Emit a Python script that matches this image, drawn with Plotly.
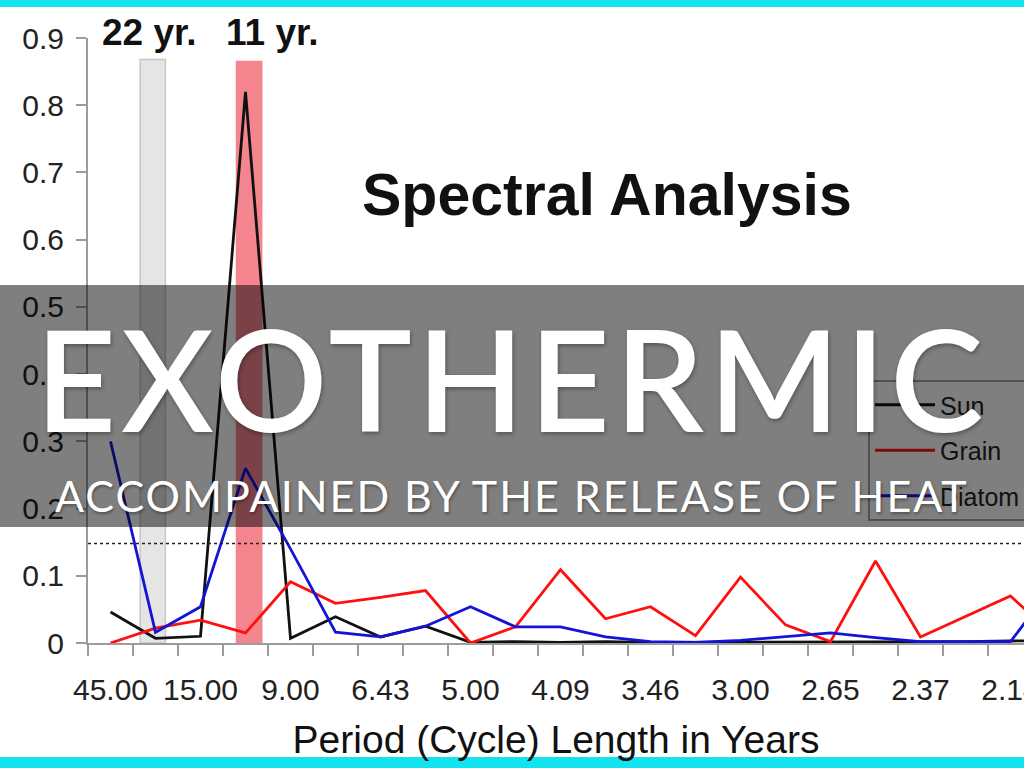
import plotly.graph_objects as go

# ---------------- data ----------------
period_labels = ["45.00", "22.50", "15.00", "11.25", "9.00", "7.50", "6.43", "5.63",
                 "5.00", "4.50", "4.09", "3.75", "3.46", "3.21", "3.00", "2.81",
                 "2.65", "2.50", "2.37", "2.25", "2.14", "2.05"]
sun = [0.046, 0.007, 0.010, 0.820, 0.007, 0.039, 0.009, 0.025, 0.001, 0.002, 0.001,
       0.002, 0.001, 0.001, 0.002, 0.002, 0.001, 0.002, 0.002, 0.002, 0.003, 0.004]
grain = [0.000, 0.022, 0.034, 0.015, 0.091, 0.059, 0.068, 0.078, 0.000, 0.024, 0.109,
         0.036, 0.054, 0.011, 0.098, 0.027, 0.002, 0.122, 0.009, 0.040, 0.070, 0.008]
diatom = [0.300, 0.016, 0.054, 0.260, 0.140, 0.016, 0.009, 0.025, 0.054, 0.024, 0.024,
          0.009, 0.002, 0.001, 0.004, 0.010, 0.015, 0.008, 0.002, 0.002, 0.002, 0.090]
series_names = ["Sun", "Grain", "Diatom"]
significance_level = 0.148
band_periods = ["22.50", "11.25"]
band_labels = ["22 yr.", "11 yr."]
band_tops = [0.868, 0.865]
chart_title = "Spectral Analysis"
x_title = "Period (Cycle) Length in Years"
banner_title = "EXOTHERMIC"
banner_subtitle = "ACCOMPAINED BY THE RELEASE OF HEAT"

# ---------------- styles ----------------
W, H = 1024, 768
ML, MR, MT, MB = 88, 0, 38, 125
PW, PH = W - ML - MR, H - MT - MB
AX = "#9c9c9c"
FONT = "Liberation Sans, Arial, sans-serif"
colors = ["#111111", "#ff1010", "#1414d8"]
band_fill = ["#e5e5e5", "#f4848e"]
band_line = ["#c6c6c6", "#f4848e"]
band_shift = [-0.06, 0.08]
label_shift = [-3, 23]
BANNER_TOP, BANNER_H, BANNER_PAD = 285, 242, 9


def px_x(p):
    return (p - ML) / PW


def px_y(p):
    return (H - MB - p) / PH


def spaced(text, px):
    return '<span style="letter-spacing:%dpx">%s</span>' % (px, text)


x_idx = list(range(len(period_labels)))

fig = go.Figure()
for name, vals, col in zip(series_names, [sun, grain, diatom], colors):
    fig.add_trace(go.Scatter(
        x=x_idx, y=vals, name=name, mode="lines", legendgroup=name,
        line=dict(color=col, width=2.8), cliponaxis=False,
    ))

shapes = []
annotations = []
for per, lab, top, fc, lc, bs, sh in zip(band_periods, band_labels, band_tops,
                                         band_fill, band_line, band_shift, label_shift):
    c = period_labels.index(per) + bs
    shapes.append(dict(type="rect", xref="x", yref="y", x0=c - 0.28, x1=c + 0.28,
                       y0=0, y1=top, fillcolor=fc, line=dict(color=lc, width=1.5),
                       layer="below"))
    annotations.append(dict(text=lab, xref="x", yref="paper", x=c, y=px_y(32), xshift=sh,
                            showarrow=False, xanchor="center", yanchor="middle",
                            font=dict(family=FONT, size=37, color="#111111", weight="bold")))

# significance level (dotted)
shapes.append(dict(type="line", xref="paper", yref="y", x0=0, x1=1,
                   y0=significance_level, y1=significance_level,
                   line=dict(color="#222222", width=1.5, dash="dot"), layer="above"))
# cyan frame strips
shapes.append(dict(type="rect", xref="paper", yref="paper", x0=px_x(0), x1=px_x(W),
                   y0=px_y(0), y1=px_y(7), fillcolor="#12e3ee", line=dict(width=0),
                   layer="above"))
shapes.append(dict(type="rect", xref="paper", yref="paper", x0=px_x(0), x1=px_x(W),
                   y0=px_y(757), y1=px_y(H), fillcolor="#12e3ee", line=dict(width=0),
                   layer="above"))

annotations.append(dict(text=chart_title, xref="paper", yref="paper",
                        x=px_x(607), y=px_y(195), xanchor="center", yanchor="middle",
                        showarrow=False,
                        font=dict(family=FONT, size=59, color="#111111", weight="bold")))

# banner overlay (drawn above legend) holding the big title
annotations.append(dict(text=spaced(banner_title, 5), xref="paper", yref="paper",
                        x=px_x(W / 2), y=px_y(BANNER_TOP + BANNER_H / 2),
                        xanchor="center", yanchor="middle",
                        width=W - 2 * BANNER_PAD, height=BANNER_H - 2 * BANNER_PAD,
                        valign="top", borderpad=BANNER_PAD, borderwidth=0,
                        bgcolor="rgba(0,0,0,0.5)", showarrow=False,
                        font=dict(family="Lato, sans-serif", size=140, color="white",
                                  weight=600, shadow="1px 2px 4px rgba(0,0,0,0.35)")))
annotations.append(dict(text=spaced(banner_subtitle, 2), xref="paper", yref="paper",
                        x=px_x(512), y=px_y(495), xanchor="center", yanchor="middle",
                        showarrow=False,
                        font=dict(family="Lato, sans-serif", size=43, color="white",
                                  shadow="1px 2px 3px rgba(0,0,0,0.35)")))

fig.update_layout(
    width=W, height=H, autosize=False,
    margin=dict(l=ML, r=MR, t=MT, b=MB, pad=0, autoexpand=False),
    paper_bgcolor="white", plot_bgcolor="white",
    font=dict(family=FONT, color="#222222"),
    shapes=shapes, annotations=annotations,
    showlegend=True,
    legend=dict(x=px_x(868), y=px_y(380), xanchor="left", yanchor="top",
                bgcolor="white", bordercolor="#a0a0a0", borderwidth=2,
                font=dict(family=FONT, size=25, color="#222222"),
                itemwidth=60, tracegroupgap=10, traceorder="grouped"),
    xaxis=dict(range=[-0.5, 20.3], showgrid=False, zeroline=False,
               showline=True, linecolor=AX, linewidth=2,
               tickmode="array", tickvals=x_idx[::2], ticktext=period_labels[::2],
               ticks="", ticklabelstandoff=19, ticklabeloverflow="allow",
               tickfont=dict(family=FONT, size=30, color="#222222"),
               minor=dict(tick0=-0.5, dtick=1, ticks="outside", ticklen=11,
                          tickwidth=2, tickcolor=AX),
               title=dict(text=x_title, standoff=21,
                          font=dict(family=FONT, size=39, color="#111111"))),
    yaxis=dict(range=[0, 0.9], dtick=0.1, showgrid=False, zeroline=False,
               showline=True, linecolor=AX, linewidth=2,
               ticks="outside", ticklen=10, tickwidth=2, tickcolor=AX,
               ticklabelstandoff=6,
               tickfont=dict(family=FONT, size=30, color="#222222")),
)

fig.write_html(
    "out.html",
    config={"responsive": False, "displayModeBar": False},
    post_script="document.body.style.margin='0';document.body.style.overflow='hidden';",
)
